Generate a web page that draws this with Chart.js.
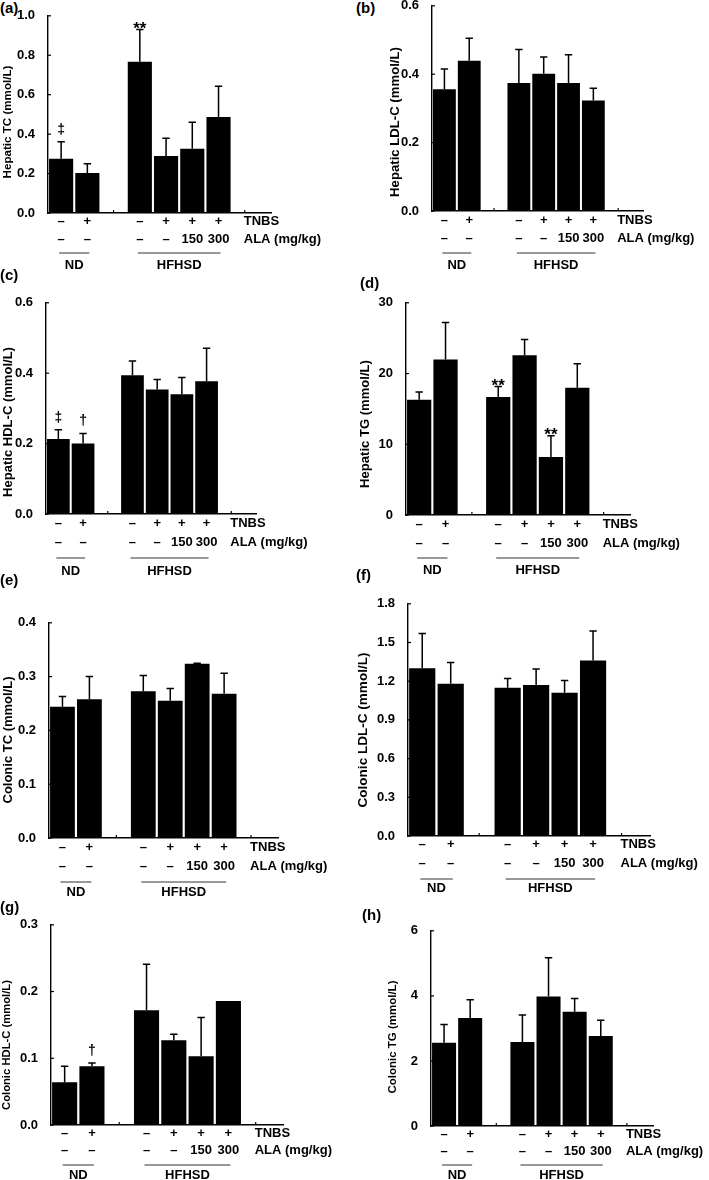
<!DOCTYPE html>
<html lang="en">
<head>
  <meta charset="UTF-8">
  <title>Hepatic and colonic lipids</title>
  <style>
    html, body {
      margin: 0;
      background: #fff;
      overflow: hidden;
    }
    body {
      position: relative;
      width: 709px;
      height: 1180px;
      font-family: 'Liberation Sans', Arial, sans-serif;
    }
    canvas {
      position: absolute;
    }
    .letter {
      position: absolute;
      font-weight: bold;
      font-size: 15px;
      line-height: 18px;
      color: #000;
    }
  </style>
</head>
<body>
  <script src="https://cdn.jsdelivr.net/npm/chart.js"></script>
  <script>
    // groups / conditions
    const barSlots = [0, 1, 3, 4, 5, 6];
    const tnbsSigns = ['–', '+', '–', '+', '+', '+'];
    const alaDoses = ['–', '–', '–', '–', '150', '300'];
    const groupNames = ['ND', 'HFHSD'];
    const groupMembers = [[0, 1], [2, 3, 4, 5]];

    // (a) hepatic TC
    const hepaticTC = [0.275, 0.203, 0.767, 0.289, 0.326, 0.487];
    const hepaticTCErr = [0.086, 0.047, 0.163, 0.090, 0.134, 0.156];
    const hepaticTCMarks = ['‡', '', '**', '', '', ''];
    const hepaticTCTicks = ['0.0', '0.2', '0.4', '0.6', '0.8', '1.0'];

    // (b) hepatic LDL-C
    const hepaticLDL = [0.356, 0.439, 0.374, 0.401, 0.374, 0.323];
    const hepaticLDLErr = [0.059, 0.066, 0.098, 0.049, 0.083, 0.036];
    const hepaticLDLMarks = ['', '', '', '', '', ''];
    const hepaticLDLTicks = ['0.0', '0.2', '0.4', '0.6'];

    // (c) hepatic HDL-C
    const hepaticHDL = [0.213, 0.200, 0.394, 0.354, 0.340, 0.377];
    const hepaticHDLErr = [0.026, 0.029, 0.041, 0.028, 0.048, 0.094];
    const hepaticHDLMarks = ['‡', '†', '', '', '', ''];
    const hepaticHDLTicks = ['0.0', '0.2', '0.4', '0.6'];

    // (d) hepatic TG
    const hepaticTG = [16.3, 22.0, 16.7, 22.6, 8.2, 18.0];
    const hepaticTGErr = [1.1, 5.2, 1.45, 2.2, 3.0, 3.4];
    const hepaticTGMarks = ['', '', '**', '', '**', ''];
    const hepaticTGTicks = ['0', '10', '20', '30'];

    // (e) colonic TC
    const colonicTC = [0.244, 0.258, 0.273, 0.255, 0.324, 0.268];
    const colonicTCErr = [0.019, 0.042, 0.029, 0.023, 0.001, 0.038];
    const colonicTCMarks = ['', '', '', '', '', ''];
    const colonicTCTicks = ['0.0', '0.1', '0.2', '0.3', '0.4'];

    // (f) colonic LDL-C
    const colonicLDL = [1.30, 1.18, 1.15, 1.17, 1.11, 1.36];
    const colonicLDLErr = [0.27, 0.165, 0.07, 0.125, 0.095, 0.23];
    const colonicLDLMarks = ['', '', '', '', '', ''];
    const colonicLDLTicks = ['0.0', '0.3', '0.6', '0.9', '1.2', '1.5', '1.8'];

    // (g) colonic HDL-C
    const colonicHDL = [0.064, 0.088, 0.172, 0.127, 0.103, 0.186];
    const colonicHDLErr = [0.024, 0.005, 0.069, 0.009, 0.058, 0];
    const colonicHDLMarks = ['', '†', '', '', '', ''];
    const colonicHDLTicks = ['0.0', '0.1', '0.2', '0.3'];

    // (h) colonic TG
    const colonicTG = [2.56, 3.32, 2.58, 3.98, 3.51, 2.77];
    const colonicTGErr = [0.56, 0.56, 0.83, 1.19, 0.41, 0.48];
    const colonicTGMarks = ['', '', '', '', '', ''];
    const colonicTGTicks = ['0', '2', '4', '6'];

    const FONT = "'Liberation Sans', Arial, sans-serif";

    // panel placement (page px): plot left/right/top/bottom, y title, label rows
    const panels = [
      { letter: '(a)', lx: 0, ly: 8, col: 0, L: 48, R: 271, T: 15, B: 213, tx: 8, ty: 122, tlen: 113, rows: [8, 26, 40, 52],
        title: 'Hepatic TC (mmol/L)', means: hepaticTC, errs: hepaticTCErr, marks: hepaticTCMarks, ticks: hepaticTCTicks },
      { letter: '(b)', lx: 356, ly: 8, col: 355, L: 432, R: 643, T: 5, B: 211, tx: 395, ty: 122, tlen: 150, rows: [9, 27, 42, 54],
        title: 'Hepatic LDL-C (mmol/L)', means: hepaticLDL, errs: hepaticLDLErr, marks: hepaticLDLMarks, ticks: hepaticLDLTicks },
      { letter: '(c)', lx: 0, ly: 275, col: 0, L: 46, R: 256, T: 302, B: 514, tx: 8, ty: 422, tlen: 150, rows: [9, 28, 44, 57],
        title: 'Hepatic HDL-C (mmol/L)', means: hepaticHDL, errs: hepaticHDLErr, marks: hepaticHDLMarks, ticks: hepaticHDLTicks },
      { letter: '(d)', lx: 360, ly: 283, col: 355, L: 406, R: 630, T: 302, B: 515, tx: 365, ty: 424, tlen: 128, rows: [9, 28, 43, 55],
        title: 'Hepatic TG (mmol/L)', means: hepaticTG, errs: hepaticTGErr, marks: hepaticTGMarks, ticks: hepaticTGTicks },
      { letter: '(e)', lx: 0, ly: 580, col: 0, L: 49, R: 278, T: 622, B: 838, tx: 8, ty: 740, tlen: 127, rows: [9, 28, 44, 54],
        title: 'Colonic TC (mmol/L)', means: colonicTC, errs: colonicTCErr, marks: colonicTCMarks, ticks: colonicTCTicks },
      { letter: '(f)', lx: 356, ly: 575, col: 355, L: 408, R: 650, T: 603, B: 836, tx: 363, ty: 730, tlen: 155, rows: [8, 27, 43, 52],
        title: 'Colonic LDL-C (mmol/L)', means: colonicLDL, errs: colonicLDLErr, marks: colonicLDLMarks, ticks: colonicLDLTicks },
      { letter: '(g)', lx: 0, ly: 907, col: 0, L: 51, R: 283, T: 924, B: 1125, tx: 7, ty: 1045, tlen: 130, rows: [8, 25, 40, 50],
        title: 'Colonic HDL-C (mmol/L)', means: colonicHDL, errs: colonicHDLErr, marks: colonicHDLMarks, ticks: colonicHDLTicks },
      { letter: '(h)', lx: 362, ly: 915, col: 355, L: 431, R: 653, T: 930, B: 1126, tx: 393, ty: 1037, tlen: 113, rows: [8, 25, 39, 49],
        title: 'Colonic TG (mmol/L)', means: colonicTG, errs: colonicTGErr, marks: colonicTGMarks, ticks: colonicTGTicks }
    ];

    const COL_W = 354;
    const PAD_TOP = 12;
    const PAD_BOTTOM = 62;

    function makeDecor(p, top) {
      return {
        id: 'decor',
        afterDraw(chart) {
          const { ctx } = chart;
          const xs = chart.scales.x;
          const ys = chart.scales.y;
          const base = ys.getPixelForValue(0);
          const left = chart.chartArea.left;
          ctx.save();
          ctx.strokeStyle = '#000';
          ctx.fillStyle = '#000';

          // inward ticks on y axis
          ctx.lineWidth = 1.2;
          p.ticks.forEach(t => {
            const ty = ys.getPixelForValue(parseFloat(t));
            ctx.beginPath();
            ctx.moveTo(left, ty);
            ctx.lineTo(left + 3, ty);
            ctx.stroke();
          });
          // inward ticks on x axis at the empty slots
          [2, 7].forEach(s => {
            const tx = xs.getPixelForValue(s);
            ctx.beginPath();
            ctx.moveTo(tx, base);
            ctx.lineTo(tx, base - 3);
            ctx.stroke();
          });

          // error bars (upper only) and significance marks
          ctx.lineWidth = 1.5;
          barSlots.forEach((s, i) => {
            const cx = xs.getPixelForValue(s);
            const y0 = ys.getPixelForValue(p.means[i]);
            const y1 = ys.getPixelForValue(p.means[i] + p.errs[i]);
            if (p.errs[i] > 0) {
              ctx.beginPath();
              ctx.moveTo(cx, y0);
              ctx.lineTo(cx, y1);
              ctx.moveTo(cx - 3.7, y1);
              ctx.lineTo(cx + 3.7, y1);
              ctx.stroke();
            }
            const m = p.marks[i];
            if (m) {
              ctx.textAlign = 'center';
              ctx.textBaseline = 'alphabetic';
              if (m === '**') {
                ctx.font = `bold 17px ${FONT}`;
                ctx.fillText(m, cx, y1 + 4);
              } else {
                ctx.font = `bold 14px ${FONT}`;
                ctx.fillText(m, cx, y1 - 8);
              }
            }
          });

          // condition rows
          ctx.font = `bold 13px ${FONT}`;
          ctx.textAlign = 'center';
          ctx.textBaseline = 'middle';
          barSlots.forEach((s, i) => {
            const cx = xs.getPixelForValue(s);
            ctx.fillText(tnbsSigns[i], cx, base + p.rows[0]);
            ctx.fillText(alaDoses[i], cx, base + p.rows[1]);
          });
          ctx.textAlign = 'left';
          const rx = xs.getPixelForValue(7) - 1;
          ctx.fillText('TNBS', rx, base + p.rows[0]);
          ctx.fillText('ALA (mg/kg)', rx, base + p.rows[1]);

          // group underlines and names
          groupMembers.forEach((mem, g) => {
            const x0 = xs.getPixelForValue(barSlots[mem[0]]);
            const x1 = xs.getPixelForValue(barSlots[mem[mem.length - 1]]);
            ctx.strokeStyle = '#333';
            ctx.lineWidth = 1;
            ctx.beginPath();
            ctx.moveTo(x0 - 2, base + p.rows[2]);
            ctx.lineTo(x1 + 2, base + p.rows[2]);
            ctx.stroke();
            ctx.textAlign = 'center';
            ctx.fillText(groupNames[g], (x0 + x1) / 2, base + p.rows[3]);
          });

          // y axis title, sized to the reference length
          ctx.font = `bold 12px ${FONT}`;
          const w = ctx.measureText(p.title).width;
          const size = 12 * p.tlen / w;
          ctx.font = `bold ${size.toFixed(2)}px ${FONT}`;
          ctx.translate(p.tx - p.col, p.ty - top);
          ctx.rotate(-Math.PI / 2);
          ctx.textAlign = 'center';
          ctx.textBaseline = 'middle';
          ctx.fillText(p.title, 0, 0);
          ctx.restore();
        }
      };
    }

    panels.forEach(p => {
      const letter = document.createElement('div');
      letter.className = 'letter';
      letter.textContent = p.letter;
      letter.style.left = p.lx + 'px';
      letter.style.top = (p.ly - 9) + 'px';
      document.body.appendChild(letter);

      const top = p.T - PAD_TOP;
      const height = (p.B + PAD_BOTTOM) - top;
      const canvas = document.createElement('canvas');
      canvas.width = COL_W;
      canvas.height = height;
      canvas.style.left = p.col + 'px';
      canvas.style.top = top + 'px';
      canvas.style.width = COL_W + 'px';
      canvas.style.height = height + 'px';
      document.body.appendChild(canvas);

      const tickValues = p.ticks.map(t => parseFloat(t));
      const yMax = tickValues[tickValues.length - 1];

      new Chart(canvas, {
        type: 'bar',
        data: {
          datasets: [{
            data: barSlots.map((s, i) => ({ x: s, y: p.means[i] })),
            backgroundColor: '#000',
            borderWidth: 0,
            barPercentage: 0.92,
            categoryPercentage: 1
          }]
        },
        options: {
          responsive: false,
          animation: false,
          devicePixelRatio: 1,
          layout: {
            padding: { left: 0, right: p.col + COL_W - p.R, top: PAD_TOP, bottom: PAD_BOTTOM }
          },
          plugins: {
            legend: { display: false },
            tooltip: { enabled: false }
          },
          scales: {
            x: {
              type: 'linear',
              min: -0.5,
              max: 8,
              offset: false,
              grid: { display: false },
              border: { display: true, color: '#000', width: 1.4 },
              ticks: { display: false },
              afterFit: s => { s.height = 0; }
            },
            y: {
              min: 0,
              max: yMax,
              grid: { display: false },
              border: { display: true, color: '#000', width: 1.4 },
              ticks: {
                color: '#000',
                padding: 5,
                font: { family: FONT, size: 13, weight: 'bold' },
                callback: (v, i) => p.ticks[i]
              },
              afterBuildTicks: s => { s.ticks = tickValues.map(v => ({ value: v })); },
              afterFit: s => { s.width = p.L - p.col; }
            }
          }
        },
        plugins: [makeDecor(p, top)]
      });
    });
  </script>
</body>
</html>
